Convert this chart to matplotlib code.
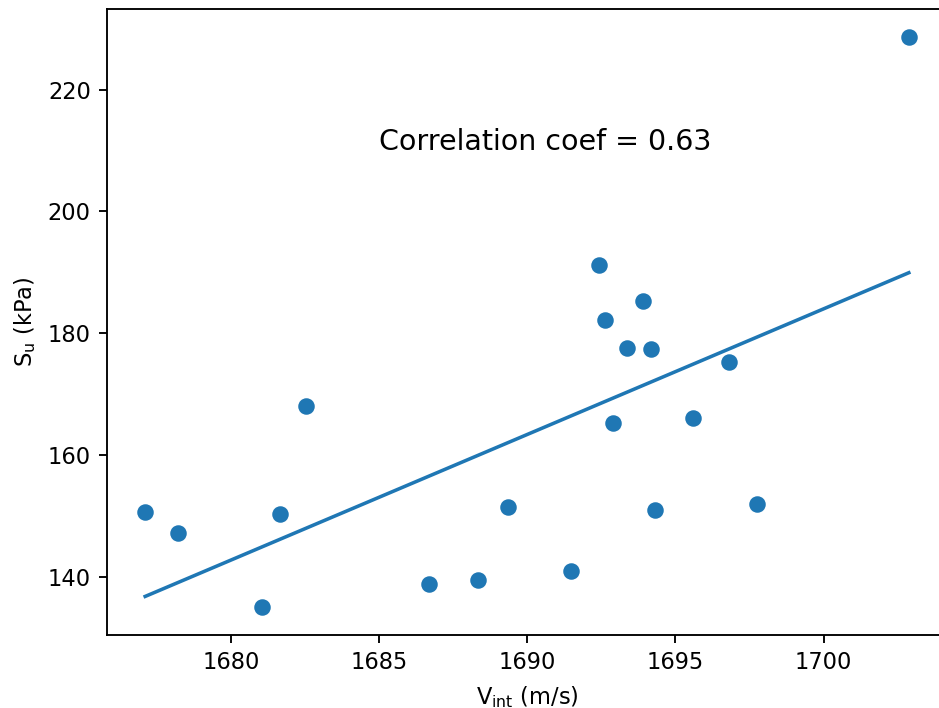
import numpy as np
import matplotlib.pyplot as plt

# velocidad de intervalo (m/s) y resistencia no drenada (kPa)
v_int = [1677.10, 1678.22, 1681.03, 1681.66, 1682.52, 1686.67, 1688.34, 1689.34,
         1691.48, 1692.43, 1692.63, 1692.90, 1693.37, 1693.92, 1694.19, 1694.30,
         1695.60, 1696.81, 1697.75, 1702.88]
su = [150.74, 147.30, 135.16, 150.32, 168.03, 138.93, 139.49, 151.46,
      141.02, 191.21, 182.14, 165.29, 177.64, 185.30, 177.43, 150.97,
      166.11, 175.35, 152.06, 228.55]

x = np.array(v_int)
y = np.array(su)

coef = np.polyfit(x, y, 1)
r = np.corrcoef(x, y)[0, 1]
xl = np.array([x.min(), x.max()])
yl = np.polyval(coef, xl)

fig = plt.figure(figsize=(939/150, 708/150), dpi=150)
ax = fig.add_axes([107/939, 73/708, 840/939, 626/708])
ax.scatter(x, y, s=48)
ax.plot(xl, yl, lw=1.7)
ax.text(1685, 210, 'Correlation coef = %.2f' % r, fontsize=13.7)
ax.set_xlabel(r'V$_{\rm int}$ (m/s)', fontsize=10.8, labelpad=4.5)
ax.set_ylabel(r'S$_{\rm u}$ (kPa)', fontsize=10.8, labelpad=4.5)
ax.tick_params(labelsize=10.8, length=3.9, width=0.9, pad=3.9)
for s in ax.spines.values():
    s.set_linewidth(0.9)
fig.savefig('out.png', dpi=150)
